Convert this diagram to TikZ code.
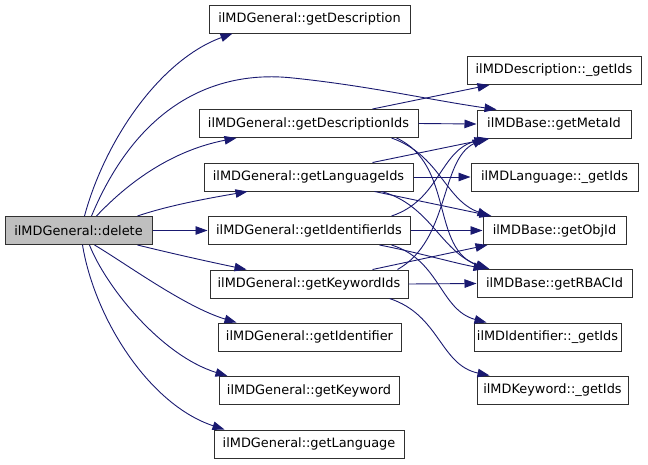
\documentclass[tikz,border=0pt]{standalone}
\usepackage{fontspec}
\setmainfont{DejaVu Sans}
\usetikzlibrary{arrows.meta}
\definecolor{edgeblue}{HTML}{191970}
\definecolor{nodegray}{HTML}{BFBFBF}
\definecolor{border}{HTML}{303030}
\begin{document}
\begin{tikzpicture}[x=1pt,y=-1pt,
  fn/.style={draw=border, line width=1pt, fill=white, rectangle, inner sep=0pt,
    minimum height=28pt, font=\fontsize{12.9}{14}\selectfont},
  cur/.style={fn, fill=nodegray},
  call/.style={draw=edgeblue, line width=0.9pt, -{Triangle[length=12pt,width=8.5pt]}, fill=none}
]
\useasboundingbox (0,0) rectangle (648,464);
% nodes
\node[cur, minimum width=147pt] (del) at (78.5,230.5) {ilMDGeneral::delete};
\node[fn, minimum width=201pt] (gDesc) at (309.5,19) {ilMDGeneral::getDescription};
\node[fn, minimum width=219pt] (descIds) at (308.5,123.5) {ilMDGeneral::getDescriptionIds};
\node[fn, minimum width=209pt] (langIds) at (308.5,177) {ilMDGeneral::getLanguageIds};
\node[fn, minimum width=202pt] (idIds) at (309,230.5) {ilMDGeneral::getIdentifierIds};
\node[fn, minimum width=198pt] (kwIds) at (309,284) {ilMDGeneral::getKeywordIds};
\node[fn, minimum width=183pt] (gId) at (309.5,337) {ilMDGeneral::getIdentifier};
\node[fn, minimum width=180pt] (gKw) at (309,390.5) {ilMDGeneral::getKeyword};
\node[fn, minimum width=190pt] (gLang) at (309,444) {ilMDGeneral::getLanguage};
\node[fn, minimum width=174pt] (descG) at (554,70.5) {ilMDDescription::\_getIds};
\node[fn, minimum width=154pt] (meta) at (554,124) {ilMDBase::getMetaId};
\node[fn, minimum width=167pt] (langG) at (554.5,177) {ilMDLanguage::\_getIds};
\node[fn, minimum width=143pt] (obj) at (554.5,230.5) {ilMDBase::getObjId};
\node[fn, minimum width=155pt] (rbac) at (554.5,283.5) {ilMDBase::getRBACId};
\node[fn, minimum width=147pt] (idG) at (547.5,337) {ilMDIdentifier::\_getIds};
\node[fn, minimum width=151pt] (kwG) at (552.5,390) {ilMDKeyword::\_getIds};

% edges from delete
\draw[call] ([xshift=80pt]del.north west) .. controls (105,140) and (160,60) .. ([xshift=24pt]gDesc.south west);
\draw[call] ([xshift=87pt]del.north west) .. controls (140,100) and (220,70) .. (293,78) .. controls (370,86) and (430,100) .. ([xshift=20pt]meta.north west);
\draw[call] ([xshift=92pt]del.north west) .. controls (140,170) and (185,148) .. ([xshift=38pt]descIds.south west);
\draw[call] ([xshift=133pt]del.north west) .. controls (170,205) and (210,198) .. ([xshift=44pt]langIds.south west);
\draw[call] (del.east) -- (idIds.west);
\draw[call] ([xshift=133pt]del.south west) .. controls (170,253) and (210,262) .. ([xshift=37pt]kwIds.north west);
\draw[call] ([xshift=90pt]del.south west) .. controls (125,263) and (185,307) .. ([xshift=19pt]gId.north west);
\draw[call] ([xshift=85pt]del.south west) .. controls (105,285) and (160,355) .. ([xshift=9pt]gKw.north west);
\draw[call] ([xshift=78pt]del.south west) .. controls (95,320) and (150,405) .. ([xshift=11pt]gLang.north west);

% edges from getDescriptionIds
\draw[call] ([xshift=174pt]descIds.north west) -- ([xshift=23pt]descG.south west);
\draw[call] (descIds.east) -- (meta.west);
\draw[call] ([xshift=193pt]descIds.south west) .. controls (440,155) and (445,200) .. ([xshift=7pt]obj.north west);
\draw[call] ([xshift=198pt]descIds.south west) .. controls (455,165) and (430,250) .. ([xshift=13pt]rbac.north west);

% edges from getLanguageIds
\draw[call] ([xshift=169pt]langIds.north west) -- ([xshift=13pt]meta.south west);
\draw[call] (langIds.east) -- (langG.west);
\draw[call] ([xshift=171pt]langIds.south west) -- ([xshift=9pt]obj.north west);
\draw[call] ([xshift=178pt]langIds.south west) .. controls (430,205) and (440,250) .. ([xshift=11pt]rbac.north west);

% edges from getIdentifierIds
\draw[call] ([xshift=184pt]idIds.north west) .. controls (440,200) and (440,150) .. ([xshift=10pt]meta.south west);
\draw[call] (idIds.east) -- (obj.west);
\draw[call] ([xshift=172pt]idIds.south west) .. controls (420,253) and (450,262) .. ([xshift=9pt]rbac.north west);
\draw[call] ([xshift=184pt]idIds.south west) .. controls (440,260) and (440,310) .. ([xshift=13pt]idG.north west);

% edges from getKeywordIds
\draw[call] ([xshift=188pt]kwIds.north west) .. controls (450,240) and (440,160) .. ([xshift=8pt]meta.south west);
\draw[call] ([xshift=163pt]kwIds.north west) -- ([xshift=5pt]obj.south west);
\draw[call] (kwIds.east) -- (rbac.west);
\draw[call] ([xshift=180pt]kwIds.south west) .. controls (440,315) and (440,365) .. ([xshift=13pt]kwG.north west);
\end{tikzpicture}
\end{document}
